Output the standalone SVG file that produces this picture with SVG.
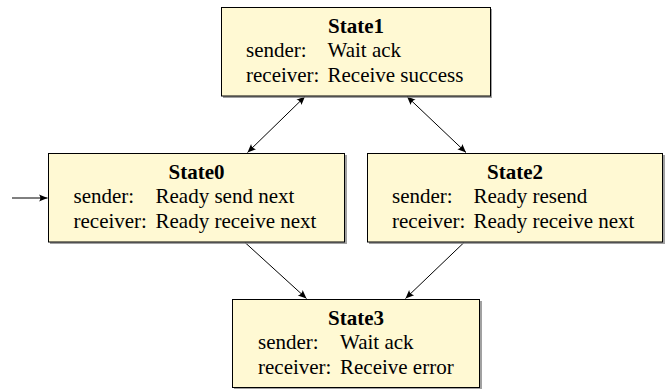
<svg xmlns="http://www.w3.org/2000/svg" width="672" height="389" viewBox="0 0 672 389">
  <style>
    .box { fill: #fff9d3; stroke: #000; stroke-width: 1; }
    .shadow { fill: #8a8a8a; opacity: 0.8; }
    .title { font-family: "Liberation Serif", "Times New Roman", serif; font-size: 21px; font-weight: bold; text-anchor: middle; fill: #000; }
    .txt { font-family: "Liberation Serif", "Times New Roman", serif; font-size: 21px; fill: #000; }
    .edge { fill: none; stroke: #000; stroke-width: 1; }
  </style>
  <defs>
    <marker id="head" viewBox="-10 -5 11 10" refX="0" refY="0" markerWidth="11" markerHeight="10" markerUnits="userSpaceOnUse" orient="auto-start-reverse">
      <path d="M0,0 L-8.5,-3.6 Q-5.8,0 -8.5,3.6 Z" fill="#000"/>
    </marker>
  </defs>

  <g id="connectors">
    <line class="edge" x1="12" y1="198" x2="47.5" y2="198" marker-end="url(#head)"/>
    <line class="edge" x1="305" y1="96.5" x2="247.5" y2="152.5" marker-start="url(#head)" marker-end="url(#head)"/>
    <line class="edge" x1="407" y1="96.5" x2="466" y2="152.5" marker-start="url(#head)" marker-end="url(#head)"/>
    <line class="edge" x1="245" y1="242.5" x2="306.5" y2="298.5" marker-end="url(#head)"/>
    <line class="edge" x1="464" y1="242.5" x2="405.5" y2="298.5" marker-end="url(#head)"/>
  </g>

  <g id="State1">
    <rect class="shadow" x="223" y="9" width="269" height="89"/>
    <rect class="box" x="221.5" y="7.5" width="269" height="88.5"/>
    <text class="title" x="356" y="33">State1</text>
    <text class="txt" x="246" y="57">sender:</text>
    <text class="txt" x="327.5" y="57">Wait ack</text>
    <text class="txt" x="246" y="81.5">receiver:</text>
    <text class="txt" x="327.5" y="81.5">Receive success</text>
  </g>

  <g id="State0">
    <rect class="shadow" x="50" y="155" width="297" height="89"/>
    <rect class="box" x="48.5" y="153.5" width="296" height="88.5"/>
    <text class="title" x="196.5" y="178.5">State0</text>
    <text class="txt" x="73.5" y="203">sender:</text>
    <text class="txt" x="155.5" y="203">Ready send next</text>
    <text class="txt" x="73.5" y="227.5">receiver:</text>
    <text class="txt" x="155.5" y="227.5">Ready receive next</text>
  </g>

  <g id="State2">
    <rect class="shadow" x="369" y="155" width="296" height="89"/>
    <rect class="box" x="367.5" y="153.5" width="295" height="88.5"/>
    <text class="title" x="515" y="178.5">State2</text>
    <text class="txt" x="392" y="203">sender:</text>
    <text class="txt" x="473.5" y="203">Ready resend</text>
    <text class="txt" x="392" y="227.5">receiver:</text>
    <text class="txt" x="473.5" y="227.5">Ready receive next</text>
  </g>

  <g id="State3">
    <rect class="shadow" x="234" y="301" width="248" height="89"/>
    <rect class="box" x="232.5" y="299.5" width="247" height="88"/>
    <text class="title" x="356" y="324.5">State3</text>
    <text class="txt" x="258" y="349">sender:</text>
    <text class="txt" x="340" y="349">Wait ack</text>
    <text class="txt" x="258" y="373.5">receiver:</text>
    <text class="txt" x="340" y="373.5">Receive error</text>
  </g>
</svg>
